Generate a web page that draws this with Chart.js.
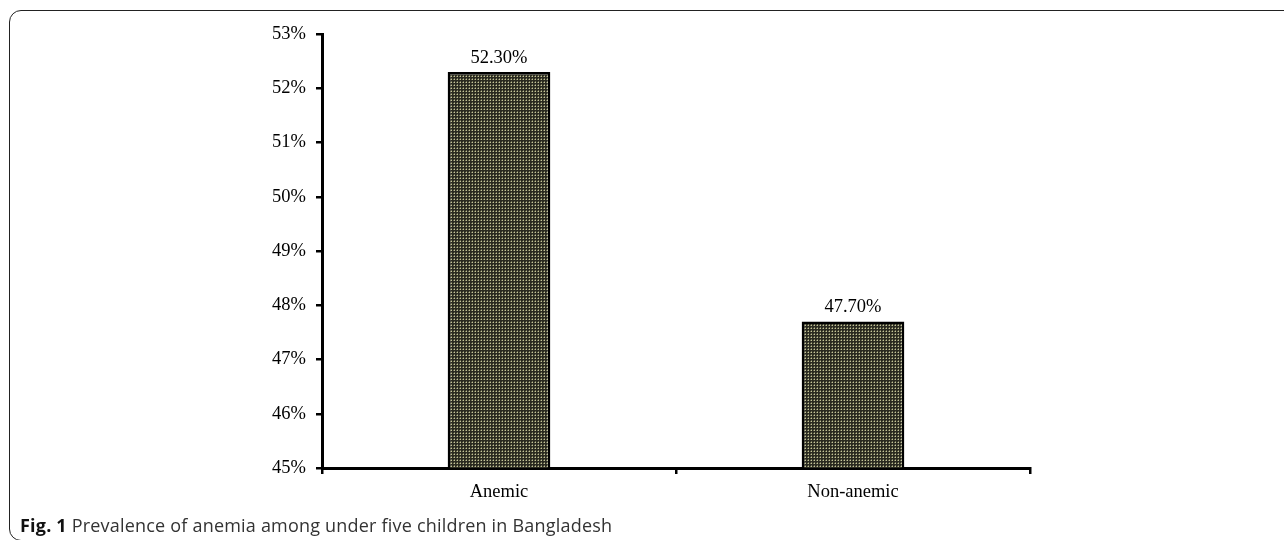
<!DOCTYPE html>
<html>
<head>
<meta charset="utf-8">
<script src="https://cdn.jsdelivr.net/npm/chart.js@4/dist/chart.umd.min.js"></script>
<style>
  html, body { margin: 0; padding: 0; background: #fff; }
  body { width: 1284px; height: 540px; position: relative; overflow: hidden; }
  .frame {
    position: absolute; left: 9px; top: 10px; width: 1400px; height: 529px;
    border: 1.5px solid #222;
    border-top-left-radius: 12px; border-bottom-left-radius: 12px;
  }
  #chart { position: absolute; left: 0; top: 0; }
  .caption {
    position: absolute; left: 20px; top: 513px; white-space: nowrap;
    font-family: "Open Sans", "Noto Sans", sans-serif; font-size: 18px; color: #333;
    letter-spacing: 0.2px;
  }
  .caption b { color: #111; }
</style>
</head>
<body>
<div class="frame"></div>
<canvas id="chart" width="1284" height="540"></canvas>
<div class="caption"><b>Fig. 1</b> Prevalence of anemia among under five children in Bangladesh</div>
<script>
// 数据
const categories = ['Anemic', 'Non-anemic'];
const prevalence = [52.3, 47.7];
const yTicks = [45, 46, 47, 48, 49, 50, 51, 52, 53];

// 点状填充图案
function makePattern() {
    const c = document.createElement('canvas');
    c.width = 3; c.height = 3;
    const g = c.getContext('2d');
    g.fillStyle = '#2a2a20';
    g.fillRect(0, 0, 3, 3);
    g.fillStyle = '#c4c498';
    g.fillRect(1, 1, 1, 1);
    g.fillStyle = '#6e6e54';
    g.fillRect(1, 0, 1, 1);
    g.fillRect(0, 1, 1, 1);
    return document.getElementById('chart').getContext('2d').createPattern(c, 'repeat');
}

// 柱顶数值标签
const valueLabels = {
    id: 'valueLabels',
    afterDatasetsDraw(chart) {
        const ctx = chart.ctx;
        const meta = chart.getDatasetMeta(0);
        ctx.save();
        ctx.font = '18.5px "Liberation Serif", serif';
        ctx.fillStyle = '#000';
        ctx.textAlign = 'center';
        ctx.textBaseline = 'bottom';
        meta.data.forEach((bar, i) => {
            ctx.fillText(prevalence[i].toFixed(2) + '%', bar.x, bar.y - 5);
        });
        ctx.restore();
    }
};

const serif = { family: '"Liberation Serif", "Times New Roman", serif', size: 18.5 };

new Chart(document.getElementById('chart').getContext('2d'), {
    type: 'bar',
    data: {
        labels: categories,
        datasets: [{
            data: prevalence,
            backgroundColor: makePattern(),
            borderColor: '#000',
            borderWidth: 2.5,
            borderSkipped: false,
            categoryPercentage: 1,
            barPercentage: 0.29
        }]
    },
    options: {
        responsive: false,
        animation: false,
        layout: { padding: { left: 262, right: 254, top: 34, bottom: 22 } },
        plugins: { legend: { display: false }, tooltip: { enabled: false } },
        scales: {
            x: {
                afterFit(scale) { scale.height = 50; },
                grid: { display: true, drawOnChartArea: false, tickLength: 6, color: '#000', lineWidth: 2.5, offset: true },
                border: { color: '#000', width: 3 },
                ticks: { color: '#000', font: serif, padding: 7 }
            },
            y: {
                min: 45, max: 53,
                afterFit(scale) { scale.width = 60; },
                afterBuildTicks(scale) { scale.ticks = yTicks.map(v => ({ value: v })); },
                grid: { display: true, drawOnChartArea: false, tickLength: 6, color: '#000', lineWidth: 2.5 },
                border: { color: '#000', width: 3 },
                ticks: { color: '#000', font: serif, padding: 10, callback: v => v + '%' }
            }
        }
    },
    plugins: [valueLabels]
});
</script>
</body>
</html>
